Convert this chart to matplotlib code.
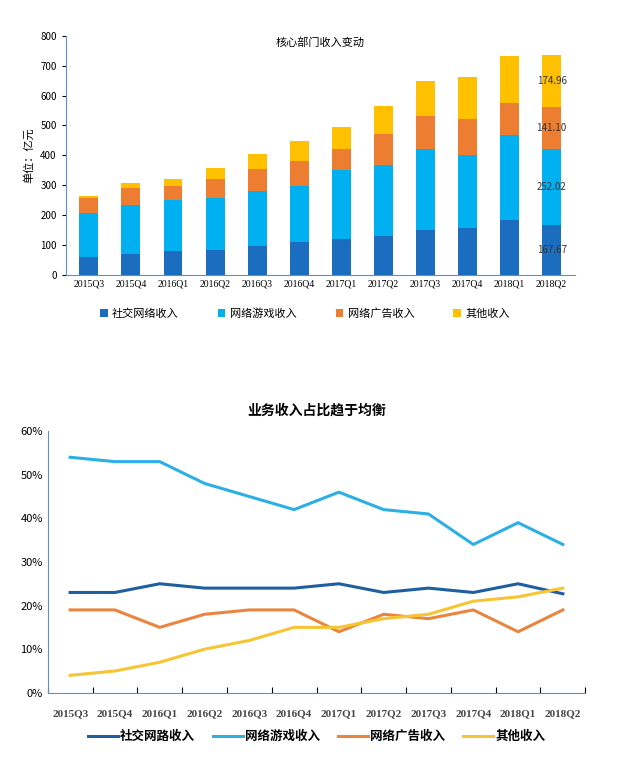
import matplotlib
matplotlib.use("Agg")
import matplotlib.pyplot as plt
import numpy as np

plt.rcParams["font.family"] = ["Noto Sans CJK SC", "DejaVu Sans"]

quarters = ["2015Q3","2015Q4","2016Q1","2016Q2","2016Q3","2016Q4","2017Q1","2017Q2","2017Q3","2017Q4","2018Q1","2018Q2"]
social = [60, 68, 78, 83, 97, 108, 120, 128, 150, 155, 182, 167.67]
games = [145, 165, 172, 175, 182, 190, 232, 241, 270, 245, 286, 252.02]
ads = [51, 59, 46, 64, 75, 82, 68, 101, 110, 121, 106, 141.10]
other = [9, 16, 24, 35, 50, 69, 76, 96, 120, 142, 160, 174.96]

pct_social = [23, 23, 25, 24, 24, 24, 25, 23, 24, 23, 25, 22.7]
pct_games = [54, 53, 53, 48, 45, 42, 46, 42, 41, 34, 39, 34]
pct_ads = [19, 19, 15, 18, 19, 19, 14, 18, 17, 19, 14, 19]
pct_other = [4, 5, 7, 10, 12, 15, 15, 17, 18, 21, 22, 24]

bar_names = ["社交网络收入", "网络游戏收入", "网络广告收入", "其他收入"]
line_names = ["社交网路收入", "网络游戏收入", "网络广告收入", "其他收入"]
bar_colors = ["#1A6DBF", "#00B0F0", "#ED7D31", "#FFC000"]
line_colors = ["#1F5F9F", "#2CB0E4", "#EA8540", "#F7C533"]

fig = plt.figure(figsize=(6.2, 7.63), dpi=100)

# top chart
ax1 = fig.add_axes([0.106, 0.640, 0.821, 0.313])
x = np.arange(len(quarters))
bottom = np.zeros(len(quarters))
for vals, c, n in zip([social, games, ads, other], bar_colors, bar_names):
    ax1.bar(x, vals, 0.45, bottom=bottom, color=c, label=n)
    bottom += np.array(vals)
b = 0
for vals in [social, games, ads, other]:
    ax1.text(x[-1], b + vals[-1] / 2, f"{vals[-1]:.2f}", ha="center", va="center", fontsize=7, color="#333333")
    b += vals[-1]
ax1.set_xlim(-0.55, 11.55)
ax1.set_ylim(0, 800)
ax1.set_yticks(range(0, 801, 100))
ax1.set_xticks(x)
ax1.set_xticklabels(quarters, fontsize=7, fontfamily="Liberation Serif")
ax1.tick_params(axis="y", labelsize=7, length=3)
ax1.tick_params(axis="x", length=0)
for s in ["top", "right"]:
    ax1.spines[s].set_visible(False)
for s in ["left", "bottom"]:
    ax1.spines[s].set_color("#5B8FD0")
ax1.set_ylabel("单位：亿元", fontsize=8)
ax1.text(0.5, 0.995, "核心部门收入变动", transform=ax1.transAxes, ha="center", va="top", fontsize=8)
ax1.legend(loc="upper center", bbox_to_anchor=(0.47, -0.1), ncol=4, frameon=False, fontsize=8,
           handlelength=0.7, handleheight=0.7, columnspacing=3.5, handletextpad=0.4)

# bottom chart
ax2 = fig.add_axes([0.077, 0.092, 0.867, 0.343])
for vals, c, n in zip([pct_social, pct_games, pct_ads, pct_other], line_colors, line_names):
    ax2.plot(x, vals, color=c, lw=2.2, label=n)
ax2.set_xlim(-0.5, 11.5)
ax2.set_ylim(0, 60)
ax2.set_yticks(range(0, 61, 10))
ax2.set_yticklabels([f"{v}%" for v in range(0, 61, 10)], fontsize=8)
ax2.set_xticks(np.arange(-0.5, 12, 1), minor=False)
ax2.set_xticklabels([])
ax2.set_xticks(x, minor=True)
ax2.set_xticklabels(quarters, minor=True, fontsize=8, fontweight="bold", fontfamily="Liberation Serif", color="#444444")
ax2.tick_params(axis="x", which="minor", length=0, pad=12)
ax2.tick_params(axis="x", which="major", length=4, direction="in")
ax2.tick_params(axis="y", length=0)
for s in ["top", "right"]:
    ax2.spines[s].set_visible(False)
for s in ["left", "bottom"]:
    ax2.spines[s].set_color("#5B8FD0")
ax2.set_title("业务收入占比趋于均衡", fontsize=10, fontweight="bold", pad=12)
leg = ax2.legend(loc="upper center", bbox_to_anchor=(0.5, -0.1), ncol=4, frameon=False, fontsize=9,
                 handlelength=2.4, columnspacing=1.4, handletextpad=0.2)
for t in leg.get_texts():
    t.set_fontweight("bold")

fig.savefig("out.png", dpi=100)
